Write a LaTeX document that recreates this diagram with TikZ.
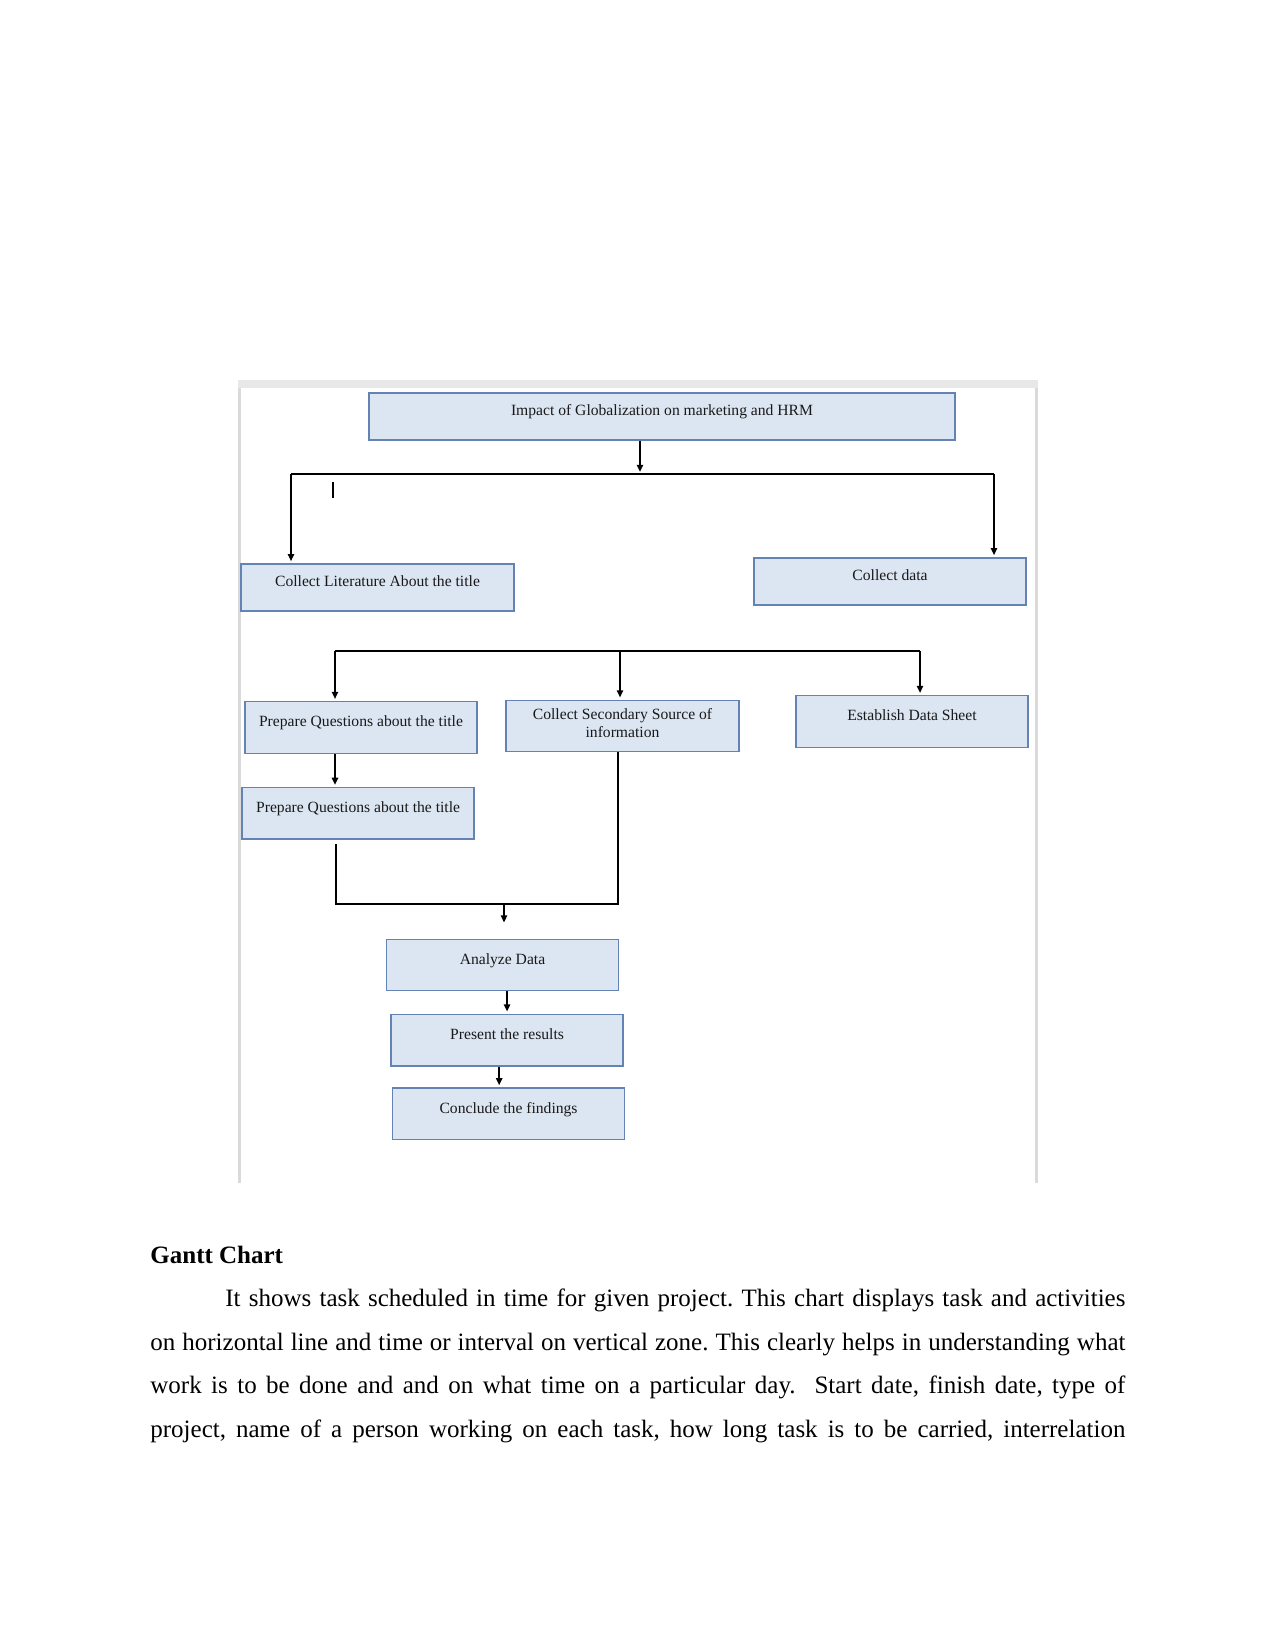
\documentclass[tikz,border=0pt]{standalone}
\usepackage{fontspec}
\setmainfont{Liberation Serif}
\usetikzlibrary{arrows.meta, positioning, calc}
\definecolor{cfill}{HTML}{DCE6F2}
\definecolor{cedge}{HTML}{6283B3}
\definecolor{cframe}{HTML}{DADADA}
\definecolor{cband}{HTML}{E8E8E8}
\newcommand{\pxu}{0.48pt}
\tikzset{
  every picture/.style={x=0.48pt, y=-0.48pt},
  box/.style={draw=cedge, fill=cfill, line width=0.7pt, inner sep=0pt, align=center,
    minimum width=#1*\pxu, minimum height=51.5*\pxu, text height=5pt, text depth=5.5pt,
    font=\fontsize{7.5}{8.64}\selectfont, text=black!90},
  box/.default=232,
  arrow/.style={-{Triangle[length=3.4pt, width=3pt]}, line width=0.8pt, shorten >=1pt},
  link/.style={line width=0.8pt},
}

\begin{document}
\begin{tikzpicture}[
  heading/.style={inner sep=0pt, font=\fontsize{12}{14}\selectfont\bfseries},
  para/.style={inner sep=0pt, text width=468pt, align=justify, font=\fontsize{12}{20.9}\selectfont}]
  \useasboundingbox (0,0) rectangle (1275,1651);
  \fill[cband] (238,380) rectangle (1038,388);
  \fill[cframe] (238,388) rectangle (241,1183);
  \fill[cframe] (1035,388) rectangle (1038,1183);

  \node[box=586, minimum height=47*\pxu] (impact) at (662,416.5) {Impact of Globalization on marketing and HRM};
  \node[box=273, minimum height=47*\pxu] (literature) at (377.5,587.5) {Collect Literature About the title};
  \node[box=272, minimum height=47*\pxu] (collect) at (890,581.5) {Collect data};
  \node[box] (questions) at (361,727.5) {Prepare Questions about the title};
  \node[box=233, text height=13.6pt, text depth=3pt] (secondary) at (622.5,726) {Collect Secondary Source of\\information};
  \node[box] (sheet) at (912,721.5) {Establish Data Sheet};
  \node[box, below=15.8pt of questions, xshift=-1.4pt] (questionsb) {Prepare Questions about the title};
  \node[box] (analyze) at (502.5,965) {Analyze Data};
  \node[box, below=10.6pt of analyze, xshift=2.2pt] (present) {Present the results};
  \node[box, below=10pt of present, xshift=0.7pt] (conclude) {Conclude the findings};

  \coordinate (hub) at (640,474);
  \coordinate (left) at (291,474);
  \coordinate (right) at (994,474);
  \draw[arrow] (impact.south -| hub) -- (hub);
  \draw[link] (left) -- (right);
  \draw[arrow] (left) -- (left |- literature.north);
  \draw[arrow] (right) -- (right |- collect.north);
  \draw[link] (333,482) -- (333,498);

  \coordinate (split) at (335,651);
  \coordinate (splitmid) at (620,651);
  \coordinate (splitend) at (920,651);
  \draw[link] (split) -- (splitend);
  \draw[arrow] (split) -- (split |- questions.north);
  \draw[arrow] (splitmid) -- (splitmid |- secondary.north);
  \draw[arrow] (splitend) -- (splitend |- sheet.north);
  \draw[arrow] (questions.south -| split) -- (questionsb.north -| split);

  \coordinate (merge) at (336,904);
  \coordinate (mergemid) at (504,904);
  \coordinate (mergeend) at (618,904);
  \draw[link, shorten >=1.9pt] (mergeend |- secondary.south) -- (mergeend) -- (merge) -- (merge |- questionsb.south);
  \draw[arrow, shorten >=7.7pt] (mergemid) -- (mergemid |- analyze.north);
  \draw[arrow] ([xshift=2.2pt]analyze.south) -- ([xshift=2.2pt]analyze.south |- present.north);
  \draw[arrow] ([xshift=-3.8pt]present.south) -- ([xshift=-3.8pt]present.south |- conclude.north);

  \node[heading, anchor=base west] (gantt) at (150,1263) {Gantt Chart};
  \node[para, anchor=north west] (body) at (150,1288.7) {\parindent=0pt\frenchspacing\noindent\hspace*{36pt}It shows task scheduled in time for given project. This chart displays task and activities\linebreak
    on horizontal line and time or interval on vertical zone. This clearly helps in understanding what\linebreak
    work is to be done and and on what time on a particular day.\ \ Start date, finish date, type of\linebreak
    project, name of a person working on each task, how long task is to be carried, interrelation{\parfillskip=0pt\par}};
\end{tikzpicture}
\end{document}
